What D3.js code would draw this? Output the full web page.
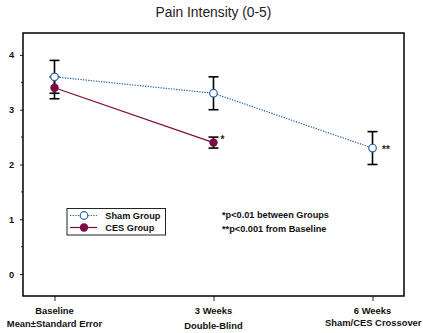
<!DOCTYPE html>
<html>
<head>
<meta charset="utf-8">
<script src="https://cdn.jsdelivr.net/npm/d3@7"></script>
<style>
  html, body { margin: 0; padding: 0; background: #fff; }
  svg { display: block; font-family: Arial, "Liberation Sans", sans-serif; }
</style>
</head>
<body>
<script>
// Time points and their two-line axis labels
const timepoints = ["Baseline", "3 Weeks", "6 Weeks"];
const tickLine1 = ["Baseline", "3 Weeks", "6 Weeks"];
const tickLine2 = ["Mean\u00b1Standard Error", "Double-Blind", "Sham/CES Crossover"];

// Mean pain intensity and standard error per group
const shamMean = [3.6, 3.3, 2.3];
const shamSE   = [0.3, 0.3, 0.3];
const cesTime  = ["Baseline", "3 Weeks"];
const cesMean  = [3.4, 2.4];
const cesSE    = [0.2, 0.1];

const yTicks = [0, 1, 2, 3, 4];
const yMinorTicks = [-0.5, 0.5, 1.5, 2.5, 3.5];

const W = 423, H = 333;
const frame = { left: 23, right: 404, top: 33, bottom: 296 };
const shamColor = "#2a61a6", cesColor = "#7d0a43";
const labelSize = 9.2;

const svg = d3.select("body").append("svg").attr("width", W).attr("height", H);

const x = d3.scalePoint().domain(timepoints).range([frame.left, frame.right]).padding(0.198);
const y = d3.scaleLinear().domain([-0.4, 4.4]).range([frame.bottom, frame.top]);

// Title
svg.append("text").attr("x", 213.5).attr("y", 17).attr("text-anchor", "middle")
  .attr("font-size", 13.8).attr("fill", "#222").text("Pain Intensity (0-5)");

// Y axis ticks (major labelled, minor unlabelled)
const yAxis = svg.append("g").attr("transform", `translate(${frame.left},0)`)
  .call(d3.axisLeft(y).tickValues(yTicks).tickFormat(d3.format("d")).tickSize(3).tickPadding(6));
yAxis.select(".domain").remove();
yAxis.selectAll("text").attr("font-size", labelSize).attr("font-weight", "bold")
  .attr("font-family", "Arial, 'Liberation Sans', sans-serif").attr("fill", "#111");
yAxis.selectAll("line").attr("stroke", "#222");
svg.append("g").selectAll("line").data(yMinorTicks.filter(v => y(v) < frame.bottom)).join("line")
  .attr("x1", frame.left - 2).attr("x2", frame.left).attr("y1", d => y(d)).attr("y2", d => y(d))
  .attr("stroke", "#333");

// X axis ticks and two-line labels
const xAxis = svg.append("g").attr("transform", `translate(0,${frame.bottom})`)
  .call(d3.axisBottom(x).tickSize(5).tickFormat(""));
xAxis.select(".domain").remove();
xAxis.selectAll("line").attr("stroke", "#222");
const xl = svg.append("g").attr("font-size", 9.4).attr("font-weight", "bold").attr("fill", "#111");
xl.selectAll("text.l1").data(timepoints).join("text").attr("class", "l1")
  .attr("text-anchor", "middle")
  .attr("x", d => x(d)).attr("y", (d, i) => i === 2 ? 313.5 : 314).text((d, i) => tickLine1[i]);
// the last sub-label is pinned to the right edge of the page so it stays fully visible
xl.selectAll("text.l2").data(timepoints).join("text").attr("class", "l2")
  .attr("text-anchor", (d, i) => i === 2 ? "end" : "middle")
  .attr("x", (d, i) => i === 2 ? W - 1.5 : x(d))
  .attr("y", (d, i) => i === 1 ? 328.5 : (i === 2 ? 326.2 : 327.4)).text((d, i) => tickLine2[i]);

// Plot frame
svg.append("rect").attr("x", frame.left).attr("y", frame.top)
  .attr("width", frame.right - frame.left).attr("height", frame.bottom - frame.top)
  .attr("fill", "none").attr("stroke", "#000").attr("stroke-width", 1.5);

// Series lines
const line = d3.line().x(d => x(d.t)).y(d => y(d.m));
const sham = timepoints.map((t, i) => ({ t, m: shamMean[i], se: shamSE[i] }));
const ces = cesTime.map((t, i) => ({ t, m: cesMean[i], se: cesSE[i] }));

svg.append("path").datum(sham).attr("d", line).attr("fill", "none")
  .attr("stroke", shamColor).attr("stroke-width", 1.2).attr("stroke-dasharray", "1.3,1.3");
svg.append("path").datum(ces).attr("d", line).attr("fill", "none")
  .attr("stroke", cesColor).attr("stroke-width", 1.2);

// Error bars
function errorBars(data) {
  const g = svg.append("g").attr("stroke", "#000").attr("stroke-width", 1.6);
  data.forEach(d => {
    const cx = x(d.t), top = y(d.m + d.se), bot = y(d.m - d.se);
    g.append("line").attr("x1", cx).attr("x2", cx).attr("y1", top).attr("y2", bot);
    g.append("line").attr("x1", cx - 5).attr("x2", cx + 5).attr("y1", top).attr("y2", top);
    g.append("line").attr("x1", cx - 5).attr("x2", cx + 5).attr("y1", bot).attr("y2", bot);
  });
}
errorBars(sham);
errorBars(ces);

// Markers
svg.append("g").selectAll("circle").data(ces).join("circle")
  .attr("cx", d => x(d.t)).attr("cy", d => y(d.m)).attr("r", 4.2).attr("fill", cesColor);
svg.append("g").selectAll("circle").data(sham).join("circle")
  .attr("cx", d => x(d.t)).attr("cy", d => y(d.m)).attr("r", 3.8)
  .attr("fill", "#fff").attr("stroke", shamColor).attr("stroke-width", 1.2);

// Significance marks
svg.append("text").attr("x", x("3 Weeks") + 7).attr("y", y(2.4) + 0.5)
  .attr("font-size", 10).attr("font-weight", "bold").attr("fill", "#222").text("*");
svg.append("text").attr("x", x("6 Weeks") + 9.5).attr("y", y(2.3) + 5)
  .attr("font-size", 10).attr("font-weight", "bold").attr("fill", "#222").text("**");

// Legend
const lg = svg.append("g");
lg.append("rect").attr("x", 67).attr("y", 208.5).attr("width", 98.5).attr("height", 26.5)
  .attr("fill", "#fff").attr("stroke", "#222").attr("stroke-width", 1);
const legendItems = [
  { label: "Sham Group", color: shamColor, open: true, yy: 215.5 },
  { label: "CES Group", color: cesColor, open: false, yy: 227.5 }
];
legendItems.forEach(it => {
  lg.append("line").attr("x1", 70).attr("x2", 97).attr("y1", it.yy).attr("y2", it.yy)
    .attr("stroke", it.color).attr("stroke-width", 1.2)
    .attr("stroke-dasharray", it.open ? "1.3,1.3" : null);
  lg.append("circle").attr("cx", 84).attr("cy", it.yy).attr("r", it.open ? 3.8 : 4.2)
    .attr("fill", it.open ? "#fff" : it.color)
    .attr("stroke", it.open ? it.color : "none").attr("stroke-width", 1.2);
  lg.append("text").attr("x", 105.3).attr("y", it.yy + 3.3).attr("font-size", labelSize)
    .attr("font-weight", "bold").attr("fill", "#111").text(it.label);
});

// Footnotes
const notes = ["*p<0.01 between Groups", "**p<0.001 from Baseline"];
svg.append("g").selectAll("text").data(notes).join("text")
  .attr("x", 222).attr("y", (d, i) => 218 + i * 13.5)
  .attr("font-size", labelSize).attr("font-weight", "bold").attr("fill", "#111").text(d => d);
</script>
</body>
</html>
